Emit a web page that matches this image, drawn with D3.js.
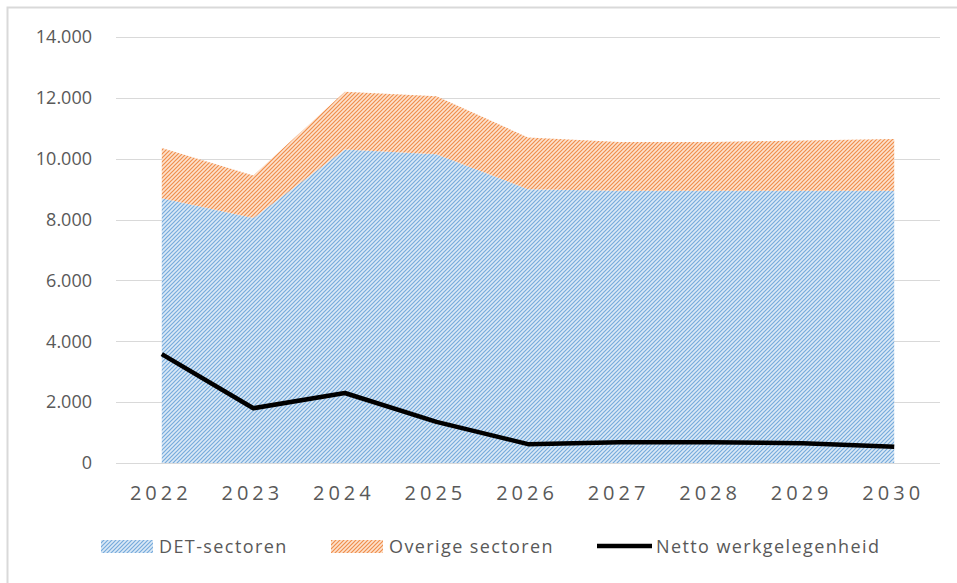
<!DOCTYPE html>
<html>
<head>
<meta charset="utf-8">
<script src="https://d3js.org/d3.v7.min.js"></script>
<style>
  body { margin: 0; background: #fff; }
  svg text { font-family: "Open Sans", "Noto Sans", sans-serif; }
</style>
</head>
<body>
<div id="chart"></div>
<script>
// data
var years = ["2022", "2023", "2024", "2025", "2026", "2027", "2028", "2029", "2030"];
var detSectoren = [8700, 8050, 10300, 10150, 9000, 8950, 8950, 8950, 8950];
var overigeSectoren = [1650, 1400, 1900, 1900, 1700, 1600, 1600, 1650, 1700];
var nettoWerk = [3580, 1800, 2300, 1350, 620, 680, 680, 650, 530];
var yTicks = [0, 2000, 4000, 6000, 8000, 10000, 12000, 14000];

var W = 957, H = 583;
var plot = { left: 116, right: 940, top: 37, bottom: 463 };

var svg = d3.select("#chart").append("svg")
  .attr("width", W).attr("height", H);

// outer frame (only left and top edges visible in the crop)
svg.append("path")
  .attr("d", "M7.5," + H + " V7.5 H" + W)
  .attr("fill", "none").attr("stroke", "#d9d9d9").attr("stroke-width", 2);

// hatch patterns
var defs = svg.append("defs");
function hatch(id, bg, fg) {
  var p = defs.append("pattern")
    .attr("id", id).attr("patternUnits", "userSpaceOnUse")
    .attr("width", 4).attr("height", 4);
  p.append("rect").attr("width", 4).attr("height", 4).attr("fill", bg);
  p.append("path")
    .attr("d", "M-1,1 l2,-2 M0,4 l4,-4 M3,5 l2,-2")
    .attr("stroke", fg).attr("stroke-width", 1.2);
}
hatch("hBlue", "#dbe9f6", "#76abdc");
hatch("hOrange", "#fde2ce", "#f08e4b");

var x = d3.scaleBand().domain(years).range([plot.left, plot.right]);
var cx = function(d) { return x(d) + x.bandwidth() / 2; };
var y = d3.scaleLinear().domain([0, 14000]).range([plot.bottom, plot.top]);

// gridlines
svg.append("g").selectAll("line").data(yTicks).join("line")
  .attr("x1", plot.left).attr("x2", plot.right)
  .attr("y1", function(d) { return Math.round(y(d)) + 0.5; })
  .attr("y2", function(d) { return Math.round(y(d)) + 0.5; })
  .attr("stroke", "#d9d9d9").attr("stroke-width", 1.2);

// stacked areas
var rows = years.map(function(yr, i) {
  return { year: yr, det: detSectoren[i], overig: overigeSectoren[i] };
});
var stack = d3.stack().keys(["det", "overig"])(rows);
var area = d3.area()
  .x(function(d) { return cx(d.data.year); })
  .y0(function(d) { return y(d[0]); })
  .y1(function(d) { return y(d[1]); });

svg.append("path").datum(stack[0])
  .attr("fill", "url(#hBlue)").attr("d", area);
svg.append("path").datum(stack[1])
  .attr("fill", "url(#hOrange)").attr("d", area);

// netto line
var line = d3.line()
  .x(function(d, i) { return cx(years[i]); })
  .y(function(d) { return y(d); });
svg.append("path").datum(nettoWerk)
  .attr("fill", "none").attr("stroke", "#000").attr("stroke-width", 4.5)
  .attr("stroke-linejoin", "round")
  .attr("d", line);

// y axis labels
var fmt = function(d) { return d === 0 ? "0" : d3.format(",")(d).replace(/,/g, "."); };
svg.append("g").selectAll("text").data(yTicks).join("text")
  .attr("x", 92).attr("y", function(d) { return y(d); })
  .attr("dy", "0.35em").attr("text-anchor", "end")
  .attr("font-size", 18).attr("fill", "#595959")
  .text(fmt);

// x axis labels
svg.append("g").selectAll("text").data(years).join("text")
  .attr("x", function(d) { return cx(d) - 1; }).attr("y", 500)
  .attr("text-anchor", "middle")
  .attr("font-size", 20).attr("letter-spacing", "4px").attr("fill", "#595959")
  .text(function(d) { return d; });

// legend
var lg = svg.append("g").attr("font-size", 18).attr("letter-spacing", "1.4px").attr("fill", "#595959");
lg.append("rect").attr("x", 101).attr("y", 540).attr("width", 52).attr("height", 13)
  .attr("fill", "url(#hBlue)");
lg.append("text").attr("x", 159).attr("y", 547).attr("dy", "0.35em").text("DET-sectoren");
lg.append("rect").attr("x", 331).attr("y", 540).attr("width", 52).attr("height", 13)
  .attr("fill", "url(#hOrange)");
lg.append("text").attr("x", 389).attr("y", 547).attr("dy", "0.35em").text("Overige sectoren");
lg.append("line").attr("x1", 597).attr("x2", 652).attr("y1", 546).attr("y2", 546)
  .attr("stroke", "#000").attr("stroke-width", 4.5);
lg.append("text").attr("x", 656).attr("y", 547).attr("dy", "0.35em").text("Netto werkgelegenheid");
</script>
</body>
</html>
